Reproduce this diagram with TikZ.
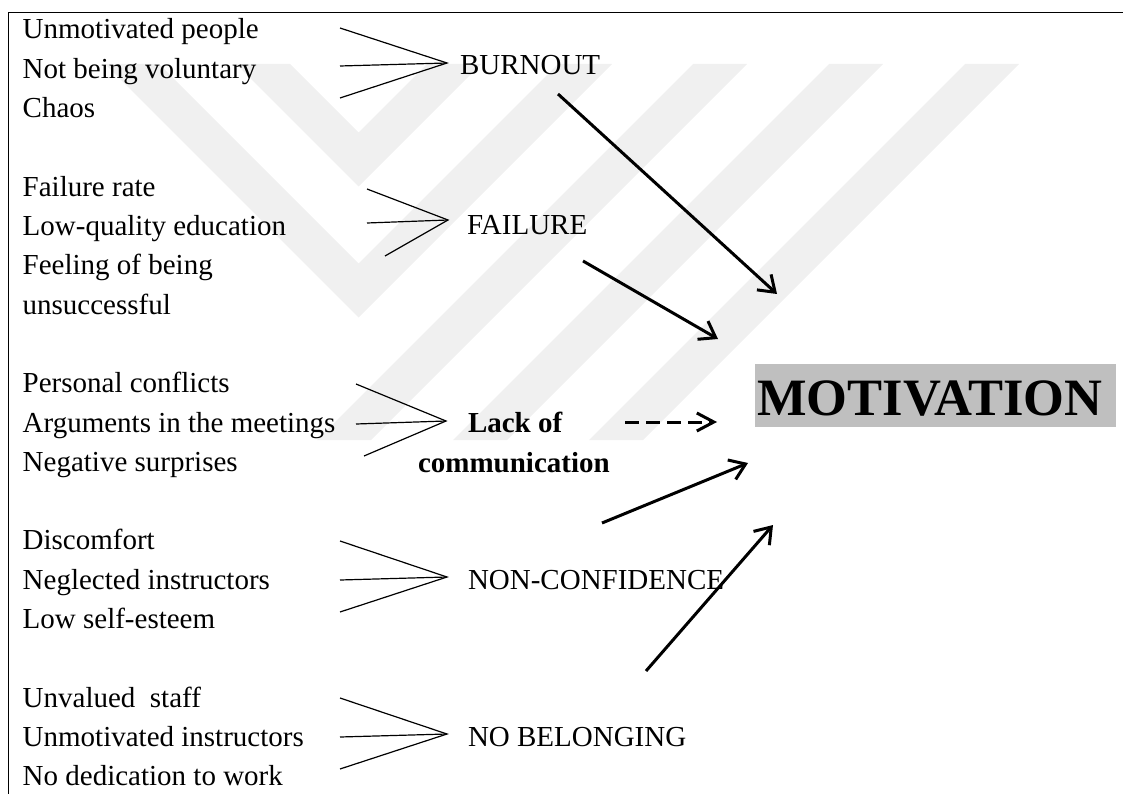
\documentclass[tikz,border=0pt]{standalone}
\usepackage{fontspec}
\setmainfont{Liberation Serif}
\usetikzlibrary{arrows.meta}
\definecolor{wm}{RGB}{240,240,240}
\definecolor{motgray}{RGB}{191,191,191}
\begin{document}
\begin{tikzpicture}[x=1pt,y=-1pt,
  txt/.style={anchor=base west, inner sep=0pt, outer sep=0pt, font=\fontsize{29}{35}\selectfont},
  boldtxt/.style={txt, font=\fontsize{29}{35}\selectfont\bfseries},
  fanline/.style={line width=1.2pt},
  bigarrow/.style={line width=3pt, -{Straight Barb[length=15pt,width=21pt]}},
  dasharrow/.style={line width=3pt, dash pattern=on 13.5pt off 7.5pt, -{Straight Barb[length=17pt,width=18pt]}},
  frame/.style={line width=1.6pt}
]
\useasboundingbox (0,0) rectangle (1123,794);
% watermark
\fill[wm] (105,64)--(159,64)--(358.5,263.5)--(558,64)--(612,64)--(358.5,317.5)--cycle;
\fill[wm] (236,64)--(290,64)--(358.5,132.5)--(427,64)--(481,64)--(358.5,186.5)--cycle;
\foreach \a/\b in {693/747, 829/883, 965/1019}{
  \fill[wm] (\a,64)--(\b,64)--(\b-376,440)--(\a-376,440)--cycle;
}
% frame
\coordinate (ftl) at (8.5,12.5);
\coordinate (ftr) at (1123,12.5);
\coordinate (fbl) at (8.5,794);
\draw[frame] (ftr) -- (ftl) -- (fbl);

% group 1
\node[txt] (g1a) at (22.7,39) {Unmotivated people};
\node[txt] (g1b) at (22.7,78.3) {Not being voluntary};
\node[txt] (g1c) at (22.7,117.6) {Chaos};
\node[txt] (burnout) at (460,75) {BURNOUT};
\coordinate (t1) at (340,28); \coordinate (m1) at (340,66); \coordinate (b1) at (340,98); \coordinate (c1) at (447,63);
\draw[fanline] (t1) -- (c1) -- (b1); \draw[fanline] (m1) -- (c1);

% group 2
\node[txt] (g2a) at (22.7,196.2) {Failure rate};
\node[txt] (g2b) at (22.7,235.5) {Low-quality education};
\node[txt] (g2c) at (22.7,274.8) {Feeling of being};
\node[txt] (g2d) at (22.7,314.1) {unsuccessful};
\node[txt] (failure) at (467,234) {FAILURE};
\coordinate (t2) at (367,189); \coordinate (m2) at (367,223); \coordinate (b2) at (385,256); \coordinate (c2) at (448,220);
\draw[fanline] (t2) -- (c2) -- (b2); \draw[fanline] (m2) -- (c2);

% group 3
\node[txt] (g3a) at (22.7,392.7) {Personal conflicts};
\node[txt] (g3b) at (22.7,432) {Arguments in the meetings};
\node[txt] (g3c) at (22.7,471.3) {Negative surprises};
\node[boldtxt] (lack1) at (468,432) {Lack of};
\node[boldtxt] (lack2) at (418,472) {communication};
\coordinate (t3) at (356,384); \coordinate (m3) at (356,424); \coordinate (b3) at (364,456); \coordinate (c3) at (446,421);
\draw[fanline] (t3) -- (c3) -- (b3); \draw[fanline] (m3) -- (c3);

% group 4
\node[txt] (g4a) at (22.7,549.9) {Discomfort};
\node[txt] (g4b) at (22.7,589.2) {Neglected instructors};
\node[txt] (g4c) at (22.7,628.5) {Low self-esteem};
\node[txt] (noncon) at (468,589) {NON-CONFIDENCE};
\coordinate (t4) at (340,541); \coordinate (m4) at (340,580); \coordinate (b4) at (340,612); \coordinate (c4) at (447,577);
\draw[fanline] (t4) -- (c4) -- (b4); \draw[fanline] (m4) -- (c4);

% group 5
\node[txt] (g5a) at (22.7,707.1) {Unvalued\ \ staff};
\node[txt] (g5b) at (22.7,746.4) {Unmotivated instructors};
\node[txt] (g5c) at (22.7,785.7) {No dedication to work};
\node[txt] (nobel) at (468,746) {NO BELONGING};
\coordinate (t5) at (340,698); \coordinate (m5) at (340,737); \coordinate (b5) at (340,769); \coordinate (c5) at (447,734);
\draw[fanline] (t5) -- (c5) -- (b5); \draw[fanline] (m5) -- (c5);

% MOTIVATION
\node[fill=motgray, inner sep=0pt, minimum width=361pt, minimum height=63pt, anchor=north west] (motbox) at (755,364) {};
\node[anchor=base west, inner sep=0pt, font=\fontsize{52.5}{60}\selectfont\bfseries] (mot) at (757,415) {MOTIVATION};

% arrows
\coordinate (a1s) at (558,94);  \coordinate (a1e) at (777,294);
\coordinate (a2s) at (583,261); \coordinate (a2e) at (718,339);
\coordinate (a3s) at (602,523); \coordinate (a3e) at (748,463);
\coordinate (a4s) at (646,671); \coordinate (a4e) at (773,525);
\coordinate (dss) at (625,422); \coordinate (dse) at (717,422);
\draw[bigarrow] (a1s) -- (a1e);
\draw[bigarrow] (a2s) -- (a2e);
\draw[bigarrow] (a3s) -- (a3e);
\draw[bigarrow] (a4s) -- (a4e);
\draw[dasharrow] (dss) -- (dse);
\end{tikzpicture}
\end{document}
